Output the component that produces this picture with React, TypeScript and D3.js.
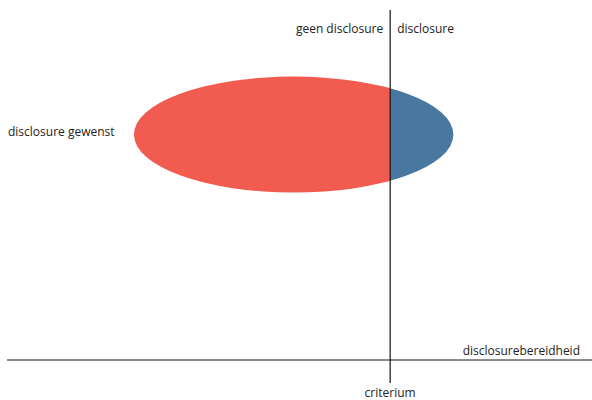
import React from "react";
import * as d3 from "d3";

const xDomain = [0, 100];
const yDomain = [0, 100];
const criterion = [65.5];
const ellipseCenter = [49.0, 60.6];
const ellipseRadius = [27.3, 15.6];
const colors = ["#f15b50", "#4878a0"];
const labels = ["geen disclosure", "disclosure", "disclosure gewenst", "disclosurebereidheid", "criterium"];

export default function App() {
  const W = 592, H = 400;
  const x = d3.scaleLinear().domain(xDomain).range([7, 592]);
  const y = d3.scaleLinear().domain(yDomain).range([360, -12]);
  const cx = x(ellipseCenter[0]);
  const cy = y(ellipseCenter[1]);
  const rx = x(ellipseCenter[0] + ellipseRadius[0]) - cx;
  const ry = cy - y(ellipseCenter[1] + ellipseRadius[1]);
  const xc = x(criterion[0]);
  const font = "'Open Sans', sans-serif";
  return (
    <svg width={W} height={H} style={{ position: "absolute", left: 0, top: 0 }}>
      <defs>
        <clipPath id="left">
          <rect x={0} y={0} width={xc} height={H} />
        </clipPath>
        <clipPath id="right">
          <rect x={xc} y={0} width={W - xc} height={H} />
        </clipPath>
      </defs>
      <ellipse cx={cx} cy={cy} rx={rx} ry={ry} fill={colors[0]} clipPath="url(#left)" />
      <ellipse cx={cx} cy={cy} rx={rx} ry={ry} fill={colors[1]} clipPath="url(#right)" />
      <line x1={x(0)} x2={x(100)} y1={y(0)} y2={y(0)} stroke="#666" strokeWidth={1.5} />
      <line x1={xc} x2={xc} y1={10} y2={383} stroke="#111" strokeWidth={1.2} />
      <g fontFamily={font} fontSize={12} fill="#222">
        <text x={xc - 7} y={33} textAnchor="end">{labels[0]}</text>
        <text x={xc + 7} y={33}>{labels[1]}</text>
        <text x={8} y={136}>{labels[2]}</text>
        <text x={580} y={355} textAnchor="end">{labels[3]}</text>
        <text x={xc} y={397} textAnchor="middle">{labels[4]}</text>
      </g>
    </svg>
  );
}
